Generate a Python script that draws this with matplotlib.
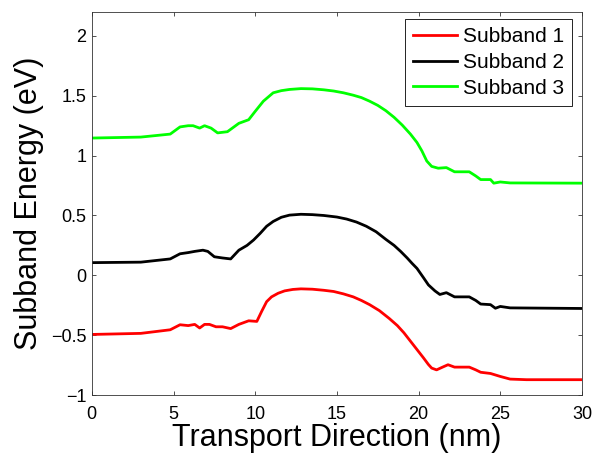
import matplotlib
matplotlib.use('Agg')
import matplotlib.pyplot as plt

# Subband energies (x in nm, E in eV)
x1 = [0, 3, 4.8, 5.4, 5.9, 6.3, 6.6, 6.9, 7.2, 7.6, 8.0, 8.5, 9.0, 9.6, 10.1, 10.4, 10.7, 11.0,
      11.4, 11.8, 12.3, 12.8, 13.5, 14.2, 14.8, 15.4, 16.0, 16.5, 17.0, 17.6, 18.2, 18.7, 19.1,
      19.5, 19.9, 20.3, 20.6, 20.8, 21.1, 21.5, 21.8, 22.2, 23.1, 23.5, 23.8, 24.4, 25.0, 25.6,
      26.6, 30]
sub1 = [-0.494, -0.485, -0.455, -0.413, -0.42, -0.41, -0.44, -0.41, -0.41, -0.43, -0.43, -0.445,
        -0.41, -0.38, -0.385, -0.3, -0.22, -0.18, -0.15, -0.13, -0.118, -0.113, -0.116, -0.125,
        -0.135, -0.155, -0.18, -0.21, -0.245, -0.295, -0.36, -0.42, -0.48, -0.55, -0.62, -0.69,
        -0.745, -0.775, -0.79, -0.765, -0.747, -0.767, -0.767, -0.79, -0.81, -0.82, -0.845,
        -0.867, -0.872, -0.872]

x2 = [0, 3, 4.8, 5.4, 5.9, 6.3, 6.8, 7.1, 7.5, 8.0, 8.5, 9.0, 9.5, 9.9, 10.3, 10.7, 11.1, 11.6,
      12.1, 12.8, 13.5, 14.2, 15.0, 15.6, 16.2, 16.8, 17.4, 18.0, 18.5, 18.9, 19.3, 19.6, 19.9,
      20.3, 20.6, 21.0, 21.3, 21.7, 22.2, 23.1, 23.5, 23.8, 24.4, 24.7, 25.0, 25.6, 30]
sub2 = [0.106, 0.11, 0.137, 0.18, 0.19, 0.2, 0.21, 0.2, 0.155, 0.145, 0.137, 0.21, 0.25, 0.295,
        0.35, 0.41, 0.45, 0.485, 0.503, 0.51, 0.507, 0.5, 0.487, 0.47, 0.445, 0.41, 0.364, 0.3,
        0.25, 0.2, 0.145, 0.1, 0.058, -0.02, -0.08, -0.13, -0.16, -0.145, -0.18, -0.18, -0.21,
        -0.24, -0.245, -0.275, -0.26, -0.272, -0.277]

x3 = [0, 3, 4.8, 5.4, 5.9, 6.2, 6.6, 6.9, 7.3, 7.7, 8.3, 9.0, 9.6, 10.0, 10.5, 11.1, 11.6, 12.1,
      12.8, 13.5, 14.2, 14.8, 15.4, 16.0, 16.5, 17.0, 17.5, 18.0, 18.5, 19.0, 19.5, 19.9, 20.2,
      20.5, 20.8, 21.2, 21.7, 22.2, 23.1, 23.5, 23.8, 24.4, 24.6, 25.0, 25.6, 30]
sub3 = [1.147, 1.155, 1.18, 1.24, 1.25, 1.25, 1.23, 1.25, 1.23, 1.19, 1.2, 1.27, 1.30, 1.37,
        1.455, 1.525, 1.543, 1.553, 1.56, 1.558, 1.55, 1.54, 1.525, 1.505, 1.485, 1.455, 1.42,
        1.375, 1.32, 1.255, 1.18, 1.11, 1.04, 0.955, 0.91, 0.895, 0.9, 0.865, 0.865, 0.83, 0.80,
        0.80, 0.77, 0.78, 0.772, 0.77]

plt.rcParams['font.family'] = ['Liberation Sans', 'DejaVu Sans']

fig = plt.figure(figsize=(6, 4.62), dpi=100)
ax = fig.add_axes([0.153, 0.145, 0.817, 0.829])

ax.plot(x1, sub1, color='#ff0000', lw=2, label='Subband 1')
ax.plot(x2, sub2, color='black', lw=2, label='Subband 2')
ax.plot(x3, sub3, color='#00ff00', lw=2, label='Subband 3')

ax.set_xlim(0, 30)
ax.set_ylim(-1, 2.2)
ax.set_xticks([0, 5, 10, 15, 20, 25, 30])
ax.set_yticks([-1, -0.5, 0, 0.5, 1, 1.5, 2])
ax.set_yticklabels(['\u22121', '\u22120.5', '0', '0.5', '1', '1.5', '2'])
ax.tick_params(direction='in', top=True, right=True, length=3, width=0.6,
               labelsize=13, color='#333333')
ax.tick_params(axis='x', pad=8)
ax.tick_params(axis='y', pad=4)
for s in ax.spines.values():
    s.set_linewidth(0.6)
    s.set_color('#333333')

ax.set_xlabel('Transport Direction (nm)', fontsize=22, labelpad=0)
ax.set_ylabel('Subband Energy (eV)', fontsize=22, labelpad=5)

leg = ax.legend(loc='upper right', bbox_to_anchor=(1 - 10 / 490, 1 - 7 / 383),
                fontsize=15, fancybox=False, framealpha=1, edgecolor='black',
                handlelength=2.1, borderpad=0.38, labelspacing=0.33,
                handletextpad=0.3, borderaxespad=0)
leg.get_frame().set_linewidth(0.6)

fig.savefig('out.png', dpi=100)
